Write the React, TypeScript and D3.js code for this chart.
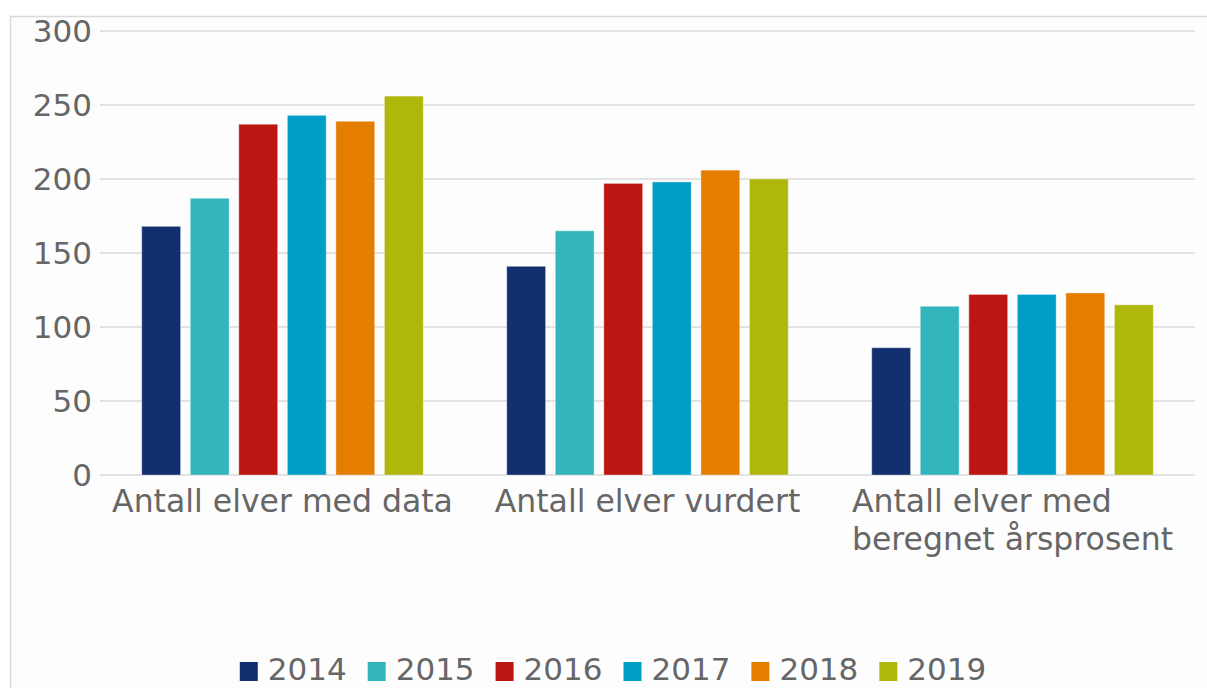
import React, { useEffect, useRef } from "react";
import * as d3 from "d3";

const categories = [
  ["Antall elver med data"],
  ["Antall elver vurdert"],
  ["Antall elver med", "beregnet årsprosent"],
];
const years = ["2014", "2015", "2016", "2017", "2018", "2019"];
const values2014 = [168, 141, 86];
const values2015 = [187, 165, 114];
const values2016 = [237, 197, 122];
const values2017 = [243, 198, 122];
const values2018 = [239, 206, 123];
const values2019 = [256, 200, 115];
const yTicks = [0, 50, 100, 150, 200, 250, 300];
const colors = ["#12306f", "#33b6bb", "#bc1613", "#009ec6", "#e57e00", "#afb70a"];

const series = [values2014, values2015, values2016, values2017, values2018, values2019];

const App = () => {
  const svgRef = useRef<SVGSVGElement>(null);

  useEffect(() => {
    document.body.style.margin = "0";
    const font = "'DejaVu Sans', sans-serif";
    const textColor = "#666666";

    const svg = d3.select(svgRef.current);
    svg.selectAll("*").remove();

    // chart frame
    svg
      .append("rect")
      .attr("x", 10.5)
      .attr("y", 16.5)
      .attr("width", 1205)
      .attr("height", 700)
      .attr("fill", "#fdfdfd")
      .attr("stroke", "#d9d9d9")
      .attr("stroke-width", 1.5);

    const left = 100;
    const right = 1195;
    const y = d3.scaleLinear().domain([0, 300]).range([475, 31]);
    const x0 = d3
      .scaleBand<number>()
      .domain(d3.range(categories.length))
      .range([left, right]);
    const x1 = d3
      .scaleBand<string>()
      .domain(years)
      .range([0, x0.bandwidth()])
      .paddingInner(0.2)
      .paddingOuter(0.86);

    // gridlines
    svg
      .append("g")
      .selectAll("line")
      .data(yTicks)
      .join("line")
      .attr("x1", left)
      .attr("x2", right)
      .attr("y1", (d) => y(d))
      .attr("y2", (d) => y(d))
      .attr("stroke", "#d9d9d9")
      .attr("stroke-width", 1.5);

    // y tick labels
    svg
      .append("g")
      .selectAll("text")
      .data(yTicks)
      .join("text")
      .attr("x", 92)
      .attr("y", (d) => y(d))
      .attr("dy", "0.36em")
      .attr("text-anchor", "end")
      .style("font-family", font)
      .style("font-size", "31px")
      .attr("fill", textColor)
      .text((d) => d);

    // bars
    const groups = svg
      .append("g")
      .selectAll("g")
      .data(series)
      .join("g")
      .attr("fill", (_, i) => colors[i]);

    groups
      .selectAll("rect")
      .data((vals, i) => vals.map((v, c) => ({ v, c, year: years[i] })))
      .join("rect")
      .attr("x", (d) => (x0(d.c) as number) + (x1(d.year) as number))
      .attr("y", (d) => y(d.v))
      .attr("width", x1.bandwidth())
      .attr("height", (d) => y(0) - y(d.v))
      .attr("stroke", "#ffffff")
      .attr("stroke-opacity", 0.35)
      .attr("stroke-width", 1);

    // category labels (lines left-aligned inside a centered block)
    categories.forEach((lines, i) => {
      const cx = (x0(i) as number) + x0.bandwidth() / 2;
      const g = svg.append("g");
      const texts = g
        .selectAll("text")
        .data(lines)
        .join("text")
        .attr("y", (_, k) => 512 + k * 38)
        .style("font-family", font)
        .style("font-size", "31.5px")
        .attr("fill", textColor)
        .text((d) => d);
      let maxW = 0;
      texts.each(function () {
        maxW = Math.max(maxW, (this as SVGTextElement).getComputedTextLength());
      });
      texts.attr("x", cx - maxW / 2);
    });

    // legend
    const legend = svg.append("g");
    const swatch = 18;
    const gapText = 10;
    const gapItem = 21;
    const items = legend
      .selectAll("g")
      .data(years)
      .join("g");
    items
      .append("rect")
      .attr("y", 662)
      .attr("width", swatch)
      .attr("height", 19)
      .attr("fill", (_, i) => colors[i]);
    items
      .append("text")
      .attr("x", swatch + gapText)
      .attr("y", 680)
      .style("font-family", font)
      .style("font-size", "31px")
      .attr("fill", textColor)
      .text((d) => d);
    const widths: number[] = [];
    items.each(function () {
      const t = d3.select(this).select("text").node() as SVGTextElement;
      widths.push(swatch + gapText + t.getComputedTextLength());
    });
    const total = d3.sum(widths) + gapItem * (widths.length - 1);
    let cursor = 613 - total / 2;
    items.attr("transform", (_, i) => {
      const tx = cursor;
      cursor += widths[i] + gapItem;
      return `translate(${tx},0)`;
    });
  }, []);

  return <svg ref={svgRef} width={1207} height={688} style={{ display: "block" }} />;
};

export default App;
